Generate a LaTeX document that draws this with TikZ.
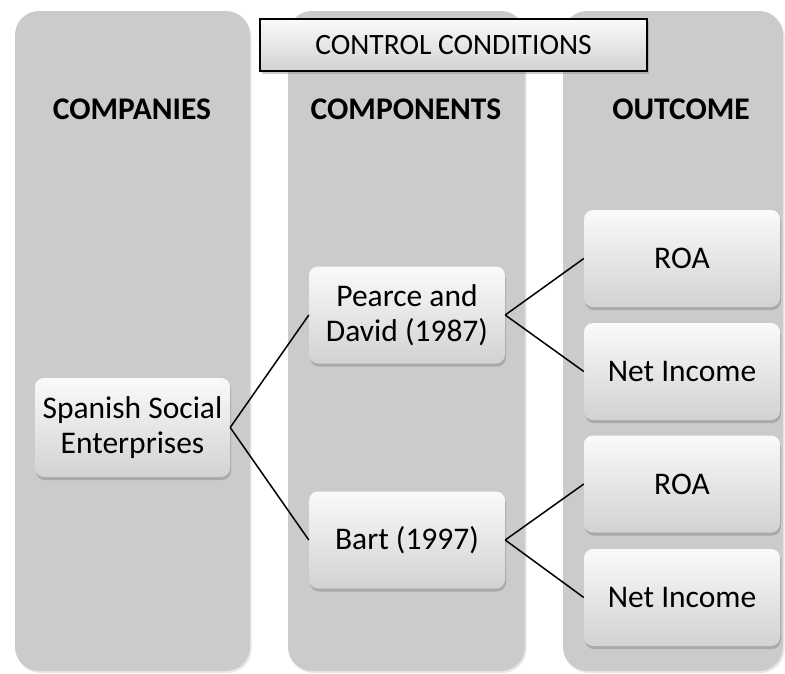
\documentclass[tikz,border=0pt]{standalone}
\usepackage{fontspec}
\setmainfont{Carlito}
\usetikzlibrary{shadows}
\definecolor{colfill}{HTML}{CBCBCB}
\definecolor{boxtop}{HTML}{FAFAFA}
\definecolor{boxbot}{HTML}{D2D2D2}
\tikzset{
  column/.style={fill=colfill, rounded corners=24pt, inner sep=0pt,
    drop shadow={opacity=0.18, shadow xshift=1.5pt, shadow yshift=-2pt}},
  header/.style={font=\fontsize{31.5}{36}\selectfont\bfseries, inner sep=0pt},
  item/.style={rounded corners=9pt, top color=boxtop, bottom color=boxbot,
    minimum width=196pt, minimum height=97pt, align=center, inner sep=2pt,
    font=\fontsize{31.5}{35}\selectfont,
    drop shadow={opacity=0.45, shadow xshift=1pt, shadow yshift=-3pt}},
  ctrl/.style={draw=black, line width=1.3pt, top color=boxtop, bottom color=boxbot,
    minimum width=387pt, minimum height=52pt, inner sep=0pt,
    font=\fontsize{29.5}{33}\selectfont,
    drop shadow={opacity=0.4, shadow xshift=2pt, shadow yshift=-3pt}},
  link/.style={line width=1.5pt, black}
}
\begin{document}
\begin{tikzpicture}[x=1pt,y=-1pt]
\useasboundingbox (0,0) rectangle (785,673);
\node[column, minimum width=235pt, minimum height=660pt] (c1) at (132.5,341) {};
\node[column, minimum width=237pt, minimum height=660pt] (c2) at (406.5,341) {};
\node[column, minimum width=220pt, minimum height=660pt] (c3) at (673,341) {};
\node[ctrl] (cc) at (453.5,45) {CONTROL CONDITIONS};
\node[header] (h1) at (132,109) {COMPANIES};
\node[header] (h2) at (406,109) {COMPONENTS};
\node[header] (h3) at (681,109) {OUTCOME};
\node[item, minimum width=195pt, minimum height=99pt] (sse) at (132.5,427.5) {Spanish Social\\Enterprises};
\node[item] (pd) at (407,315) {Pearce and\\David (1987)};
\node[item] (bart) at (407,540) {Bart (1997)};
\node[item] (roa1) at (682,258.5) {ROA};
\node[item] (ni1) at (682,371.5) {Net Income};
\node[item] (roa2) at (682,484) {ROA};
\node[item] (ni2) at (682,597.5) {Net Income};
\draw[link] (sse.east) -- (pd.west);
\draw[link] (sse.east) -- (bart.west);
\draw[link] (pd.east) -- (roa1.west);
\draw[link] (pd.east) -- (ni1.west);
\draw[link] (bart.east) -- (roa2.west);
\draw[link] (bart.east) -- (ni2.west);
\end{tikzpicture}
\end{document}
